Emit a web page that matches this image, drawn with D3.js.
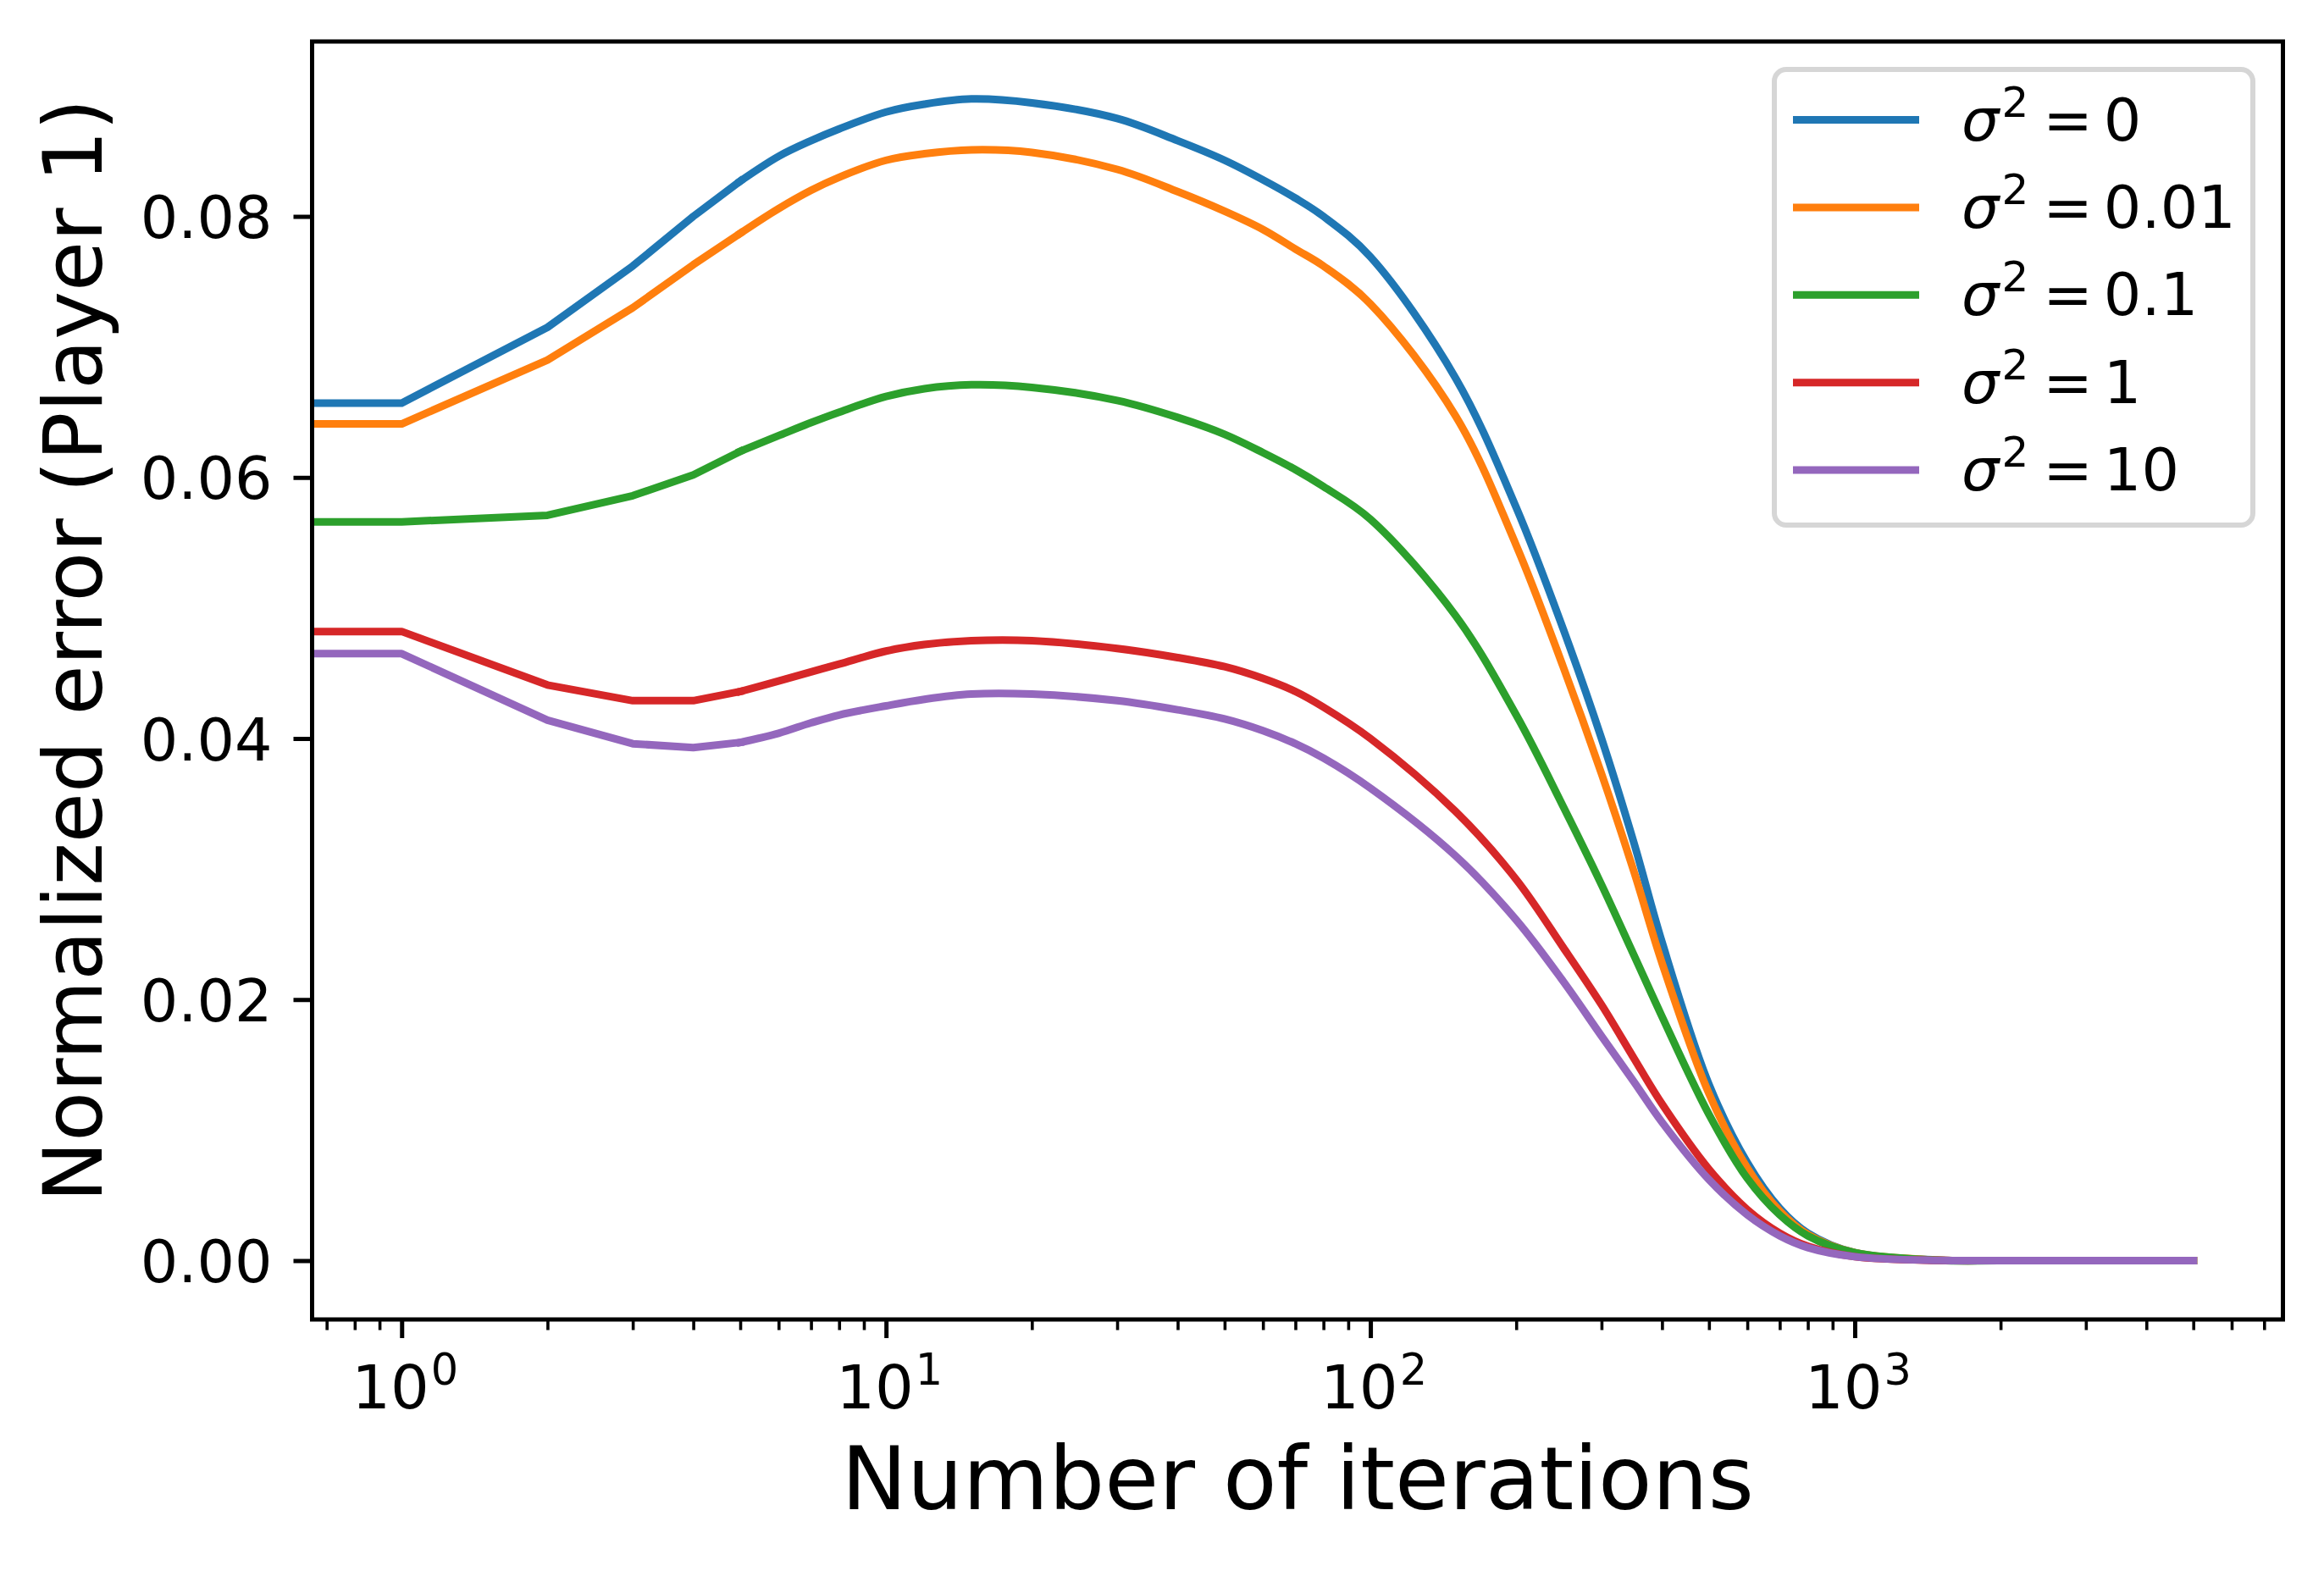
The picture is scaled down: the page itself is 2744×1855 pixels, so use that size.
<!DOCTYPE html>
<html>
<head>
<meta charset="utf-8">
<script src="https://cdn.jsdelivr.net/npm/d3@7"></script>
<style>
  html, body { margin: 0; padding: 0; background: #fff; }
  svg { display: block; font-family: "DejaVu Sans", sans-serif; }
</style>
</head>
<body>
<svg id="chart" width="2744" height="1855"></svg>
<script>
// iteration counts (0 is clipped to the far left like a log axis does)
var iterations = [0, 1, 2, 3, 4, 5, 6, 7, 8, 10, 12, 15, 20, 30, 40, 50, 60, 70, 80,
  100, 150, 200, 250, 300, 350, 400, 500, 600, 700, 800, 1000, 1500, 2000, 5000];

var sigma0 = [0.0657, 0.0657, 0.0715, 0.0762, 0.0800, 0.0827, 0.0846, 0.0858, 0.0867, 0.0880, 0.0886, 0.0890, 0.0887, 0.0875, 0.0858, 0.0843, 0.0828, 0.0814, 0.0800,
  0.0769, 0.0676, 0.0577, 0.0484, 0.0400, 0.0320, 0.0244, 0.0135, 0.0075, 0.0040, 0.0021, 0.0006, 0.00003, 0, 0];
var sigma001 = [0.0641, 0.0641, 0.0690, 0.0730, 0.0763, 0.0787, 0.0806, 0.0820, 0.0830, 0.0843, 0.0848, 0.0851, 0.0849, 0.0836, 0.0819, 0.0804, 0.0790, 0.0775, 0.0762,
  0.0733, 0.0647, 0.0548, 0.0455, 0.0373, 0.0298, 0.0228, 0.0128, 0.0071, 0.0038, 0.0020, 0.0006, 0.00003, 0, 0];
var sigma01 = [0.0566, 0.0566, 0.0571, 0.0586, 0.0602, 0.0620, 0.0632, 0.0642, 0.0650, 0.0662, 0.0668, 0.0671, 0.0669, 0.0659, 0.0646, 0.0633, 0.0619, 0.0606, 0.0593,
  0.0568, 0.0494, 0.0418, 0.0348, 0.0288, 0.0234, 0.0187, 0.0112, 0.0063, 0.0035, 0.0019, 0.0006, 0.00002, 0, 0];
var sigma1 = [0.0482, 0.0482, 0.0441, 0.0429, 0.0429, 0.0436, 0.0444, 0.0451, 0.0457, 0.0467, 0.0472, 0.0475, 0.0475, 0.0469, 0.0462, 0.0455, 0.0446, 0.0436, 0.0424,
  0.0400, 0.0344, 0.0292, 0.0240, 0.0196, 0.0155, 0.0120, 0.0070, 0.0039, 0.0021, 0.0011, 0.0003, 0.00001, 0, 0];
var sigma10 = [0.0465, 0.0465, 0.0414, 0.0396, 0.0393, 0.0397, 0.0404, 0.0412, 0.0418, 0.0425, 0.0430, 0.0434, 0.0434, 0.0429, 0.0422, 0.0415, 0.0406, 0.0396, 0.0385,
  0.0362, 0.0310, 0.0261, 0.0214, 0.0172, 0.0137, 0.0106, 0.0062, 0.0035, 0.0019, 0.0010, 0.0003, 0.00001, 0, 0];

var seriesLabels = ["0", "0.01", "0.1", "1", "10"];
var seriesColors = ["#1f77b4", "#ff7f0e", "#2ca02c", "#d62728", "#9467bd"];
var seriesValues = [sigma0, sigma001, sigma01, sigma1, sigma10];

var yTicks = [0, 0.02, 0.04, 0.06, 0.08];
var xMajorTicks = [1, 10, 100, 1000];
var xMinorTicks = [0.7, 0.8, 0.9, 2, 3, 4, 5, 6, 7, 8, 9, 20, 30, 40, 50, 60, 70, 80, 90,
  200, 300, 400, 500, 600, 700, 800, 900, 2000, 3000, 4000, 5000, 6000, 7000];

// plot box (window.top is read-only, hence the prefixed names)
var boxLeft = 368.5, boxRight = 2695.5, boxTop = 49, boxBottom = 1558;

var svg = d3.select('#chart');

var x = d3.scaleLog()
  .domain([Math.pow(10, -0.18495), Math.pow(10, 3.88395)])
  .range([boxLeft, boxRight]);

var y = d3.scaleLinear()
  .domain([-0.00451, 0.0934])
  .range([boxBottom, boxTop]);

svg.append('clipPath').attr('id', 'plotClip')
  .append('rect')
  .attr('x', boxLeft).attr('y', boxTop)
  .attr('width', boxRight - boxLeft).attr('height', boxBottom - boxTop);

// lines
var series = seriesValues.map((vals, i) => ({
  label: seriesLabels[i],
  color: seriesColors[i],
  points: iterations.map((it, j) => ({it: it, v: vals[j]}))
}));

var xPos = (d) => x(Math.max(d.it, 1e-3));

var lineLinear = d3.line().x(xPos).y((d) => y(d.v)).curve(d3.curveLinear);
var lineSmooth = d3.line().x(xPos).y((d) => y(d.v)).curve(d3.curveCatmullRom.alpha(0.5));

var lines = svg.append('g').attr('clip-path', 'url(#plotClip)');

series.forEach((s) => {
  var g = lines.append('g')
    .style('fill', 'none')
    .style('stroke', s.color)
    .style('stroke-width', 9)
    .style('stroke-linejoin', 'round')
    .style('stroke-linecap', 'square');
  // integer steps at the start are plain straight segments
  g.append('path').attr('d', lineLinear(s.points.filter((p) => p.it <= 5)));
  g.append('path').attr('d', lineSmooth(s.points.filter((p) => p.it >= 5)));
});

// x axis ticks
var xMajor = svg.append('g')
  .attr('transform', 'translate(0,' + boxBottom + ')')
  .call(d3.axisBottom(x).tickValues(xMajorTicks).tickSize(22).tickFormat(''));
xMajor.select('.domain').remove();
xMajor.selectAll('.tick line').style('stroke', '#000').style('stroke-width', 5);

var xMinor = svg.append('g')
  .attr('transform', 'translate(0,' + boxBottom + ')')
  .call(d3.axisBottom(x).tickValues(xMinorTicks).tickSize(12.5).tickFormat(''));
xMinor.select('.domain').remove();
xMinor.selectAll('.tick line').style('stroke', '#000').style('stroke-width', 3.6);

// 10^k labels
xMajorTicks.forEach((t) => {
  var txt = svg.append('text')
    .attr('x', x(t) + 4)
    .attr('y', 1663)
    .attr('text-anchor', 'middle')
    .style('font-size', '72px')
    .style('fill', '#000');
  txt.append('tspan').text('10');
  txt.append('tspan')
    .attr('dy', -28)
    .attr('dx', 2)
    .style('font-size', '51px')
    .text(Math.round(Math.log10(t)));
});

// y axis
var yAxis = svg.append('g')
  .attr('transform', 'translate(' + boxLeft + ',0)')
  .call(d3.axisLeft(y).tickValues(yTicks).tickSize(22).tickPadding(25).tickFormat(d3.format('.2f')));
yAxis.select('.domain').remove();
yAxis.selectAll('.tick line').style('stroke', '#000').style('stroke-width', 5);
yAxis.selectAll('.tick text')
  .attr('dy', '0.36em')
  .style('font-size', '70px')
  .style('font-family', '"DejaVu Sans", sans-serif')
  .style('fill', '#000');

// spines
svg.append('rect')
  .attr('x', boxLeft).attr('y', boxTop)
  .attr('width', boxRight - boxLeft).attr('height', boxBottom - boxTop)
  .style('fill', 'none')
  .style('stroke', '#000')
  .style('stroke-width', 5);

// axis titles
svg.append('text')
  .attr('x', (boxLeft + boxRight) / 2)
  .attr('y', 1782)
  .attr('text-anchor', 'middle')
  .style('font-size', '104px')
  .style('fill', '#000')
  .text('Number of iterations');

svg.append('text')
  .attr('transform', 'translate(120,768) rotate(-90)')
  .attr('text-anchor', 'middle')
  .style('font-size', '96px')
  .style('fill', '#000')
  .text('Normalized error (Player 1)');

// legend
var legend = svg.append('g');
legend.append('rect')
  .attr('x', 2095).attr('y', 82)
  .attr('width', 565).attr('height', 538)
  .attr('rx', 14).attr('ry', 14)
  .style('fill', '#fff')
  .style('fill-opacity', 0.8)
  .style('stroke', '#d6d6d6')
  .style('stroke-width', 6);

series.forEach((s, i) => {
  var ry = 141.5 + i * 103.4;
  legend.append('line')
    .attr('x1', 2117).attr('x2', 2266)
    .attr('y1', ry).attr('y2', ry)
    .style('stroke', s.color)
    .style('stroke-width', 9)
    .style('stroke-linecap', 'butt');
  var t = legend.append('text')
    .attr('x', 2316)
    .attr('y', ry + 24)
    .style('font-size', '70px')
    .style('fill', '#000');
  t.append('tspan').style('font-style', 'italic').text('σ');
  t.append('tspan').attr('dy', -28).attr('dx', 3).style('font-size', '50px').text('2');
  t.append('tspan').attr('dy', 28).attr('dx', 17).text('=');
  t.append('tspan').attr('dx', 13).text(s.label);
});
</script>
</body>
</html>
